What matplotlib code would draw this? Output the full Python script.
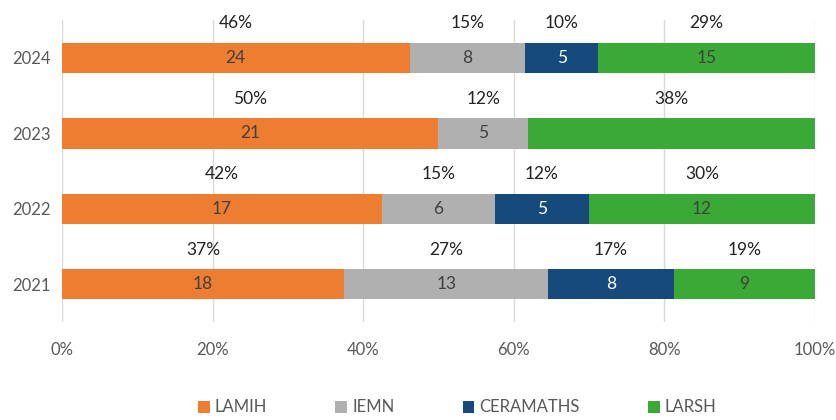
import matplotlib
matplotlib.use("Agg")
import matplotlib.pyplot as plt
import numpy as np

plt.rcParams['font.family'] = ['Lato', 'DejaVu Sans']

years = ["2021", "2022", "2023", "2024"]
series = ["LAMIH", "IEMN", "CERAMATHS", "LARSH"]
lamih = [18, 17, 21, 24]
iemn = [13, 6, 5, 8]
ceramaths = [8, 5, 0, 5]
larsh = [9, 12, 16, 15]
# value labels shown inside bars (None = not shown)
value_labels = {
    "LAMIH": ["18", "17", "21", "24"],
    "IEMN": ["13", "6", "5", "8"],
    "CERAMATHS": ["8", "5", None, "5"],
    "LARSH": ["9", "12", None, "15"],
}
pct_labels = {
    "LAMIH": ["37%", "42%", "50%", "46%"],
    "IEMN": ["27%", "15%", "12%", "15%"],
    "CERAMATHS": ["17%", "12%", None, "10%"],
    "LARSH": ["19%", "30%", "38%", "29%"],
}
colors = ["#ED7D31", "#B0B0B0", "#164A7C", "#3AA935"]
text_colors = ["#404040", "#404040", "#FFFFFF", "#404040"]

data = np.array([lamih, iemn, ceramaths, larsh], dtype=float)
totals = data.sum(axis=0)
shares = data / totals * 100

fig = plt.figure(figsize=(8.36, 4.2), dpi=100)
ax = fig.add_axes([0.074, 0.233, 0.901, 0.719])

y = np.arange(len(years))
left = np.zeros(len(years))
for k, name in enumerate(series):
    ax.barh(y, shares[k], left=left, height=0.40, color=colors[k],
            label=name, zorder=3)
    for i in range(len(years)):
        cx = left[i] + shares[k][i] / 2
        vl = value_labels[name][i]
        if vl is not None:
            ax.text(cx, y[i], vl, ha='center', va='center', fontsize=12.5,
                    color=text_colors[k], zorder=4)
        pl = pct_labels[name][i]
        if pl is not None:
            ax.text(cx, y[i] + 0.46, pl, ha='center', va='center',
                    fontsize=12.5, color='#222222', zorder=4, clip_on=False)
    left += shares[k]

ax.set_xlim(0, 100)
ax.set_ylim(-0.5, 3.5)
ax.set_xticks(np.arange(0, 101, 20))
ax.set_xticklabels([f"{v}%" for v in range(0, 101, 20)])
ax.set_yticks(y)
ax.set_yticklabels(years)
ax.tick_params(axis='both', length=0, labelsize=12, colors='#595959')
ax.tick_params(axis='x', pad=14)
ax.tick_params(axis='y', pad=8)
ax.grid(axis='x', color='#D9D9D9', linewidth=1, zorder=0)
for s in ax.spines.values():
    s.set_visible(False)

leg = fig.legend(loc='lower center', bbox_to_anchor=(0.547, -0.025), ncol=4,
                 frameon=False, fontsize=12, handlelength=0.7, handleheight=0.7,
                 columnspacing=4.1, handletextpad=0.3, labelcolor='#595959')

fig.savefig("out.png", dpi=100)
